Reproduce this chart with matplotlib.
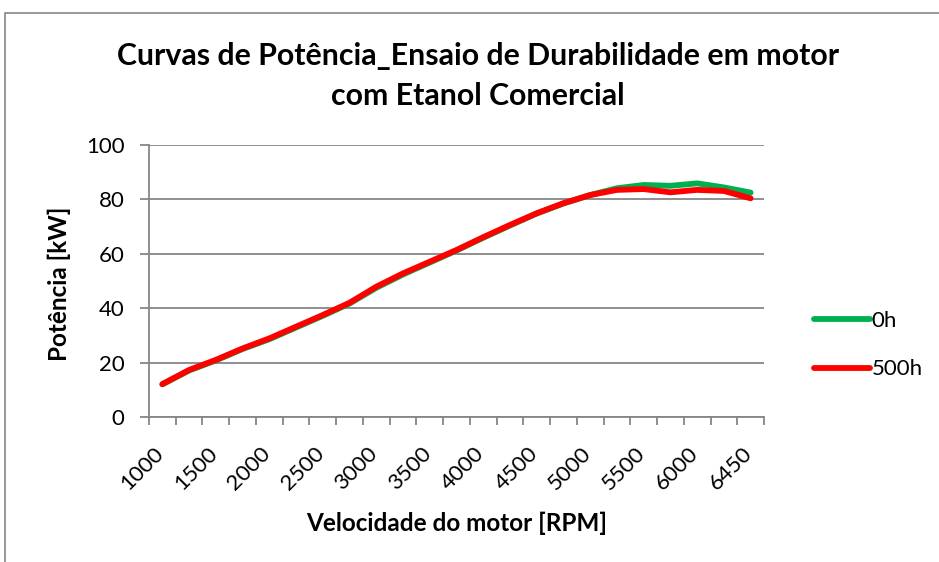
import numpy as np
import matplotlib
matplotlib.use('Agg')
from matplotlib import pyplot as plt
from matplotlib.patches import Rectangle
from matplotlib.transforms import ScaledTranslation

# engine speed categories (rpm) and power (kW)
rpm = [1000, 1250, 1500, 1750, 2000, 2250, 2500, 2750, 3000, 3250, 3500, 3750,
       4000, 4250, 4500, 4750, 5000, 5250, 5500, 5750, 6000, 6250, 6450]
power_0h = [12.0, 17.1, 20.8, 25.0, 28.6, 32.9, 37.2, 41.7, 47.5, 52.4, 56.8, 61.2,
            65.9, 70.4, 74.8, 78.5, 81.6, 84.1, 85.3, 85.0, 85.9, 84.4, 82.5]
power_500h = [12.1, 17.3, 21.0, 25.2, 28.9, 33.2, 37.5, 42.0, 47.9, 52.8, 57.1, 61.4,
              66.1, 70.6, 74.9, 78.6, 81.6, 83.5, 83.8, 82.6, 83.5, 83.1, 80.4]
series_names = ['0h', '500h']
series_colors = ['#00b050', '#ff0000']

plt.rcParams['font.family'] = ['Lato', 'DejaVu Sans']
grey = '#868686'

W, H = 939, 562
fig = plt.figure(figsize=(W / 100, H / 100), dpi=100)
ax = fig.add_axes([149 / W, 1 - 417 / H, (764 - 149) / W, (417 - 145) / H])

# chart area border
fig.patches.append(Rectangle((5 / W, -0.1), 1.1, 1 - 13 / H + 0.1,
                             transform=fig.transFigure, fill=False,
                             edgecolor=grey, linewidth=1.2))

idx = np.arange(len(rpm))
for vals, name, col in zip([power_0h, power_500h], series_names, series_colors):
    ax.plot(idx, vals, color=col, linewidth=4.2, label=name,
            solid_capstyle='round', solid_joinstyle='round')

ax.set_xlim(-0.5, len(rpm) - 0.5)
ax.set_ylim(0, 100)
ax.set_yticks(range(0, 101, 20))
ax.grid(axis='y', color=grey, linewidth=1.3)
ax.set_axisbelow(True)

label_idx = list(range(0, len(rpm), 2))
ax.set_xticks(label_idx)
ax.set_xticklabels([str(rpm[i]) for i in label_idx], rotation=45, ha='right',
                   rotation_mode='anchor')
ax.set_xticks(np.arange(-0.5, len(rpm), 1), minor=True)
ax.tick_params(axis='x', which='major', length=0, pad=14, labelsize=16)
ax.tick_params(axis='x', which='minor', length=6, width=1.3, color=grey)
ax.tick_params(axis='y', length=6.5, width=1.3, color=grey, labelsize=16, pad=11)

# nudge rotated labels to sit like the original
shift = ScaledTranslation(-9 / 100, -7 / 100, fig.dpi_scale_trans)
for lab in ax.get_xticklabels():
    lab.set_transform(lab.get_transform() + shift)

for s in ['top', 'right']:
    ax.spines[s].set_visible(False)
for s in ['left', 'bottom']:
    ax.spines[s].set_color(grey)
    ax.spines[s].set_linewidth(1.3)

fig.text(457 / W, 1 - 523 / H, 'Velocidade do motor [RPM]', ha='center', va='center',
         fontsize=17.5, fontweight='bold')
fig.text(59 / W, 1 - 284 / H, 'Potência [kW]', ha='center', va='center',
         rotation=90, fontsize=17.5, fontweight='bold')

fig.text(478 / W, 1 - 76 / H,
         'Curvas de Potência_Ensaio de Durabilidade em motor\ncom Etanol Comercial',
         ha='center', va='center', fontsize=21.8, fontweight='bold', linespacing=1.55)

fig.legend(loc='center left', bbox_to_anchor=(794 / W, 1 - 345 / H), frameon=False,
           fontsize=16, handlelength=2.5, handletextpad=0.1, labelspacing=1.3)

plt.savefig('out.png', dpi=100)
